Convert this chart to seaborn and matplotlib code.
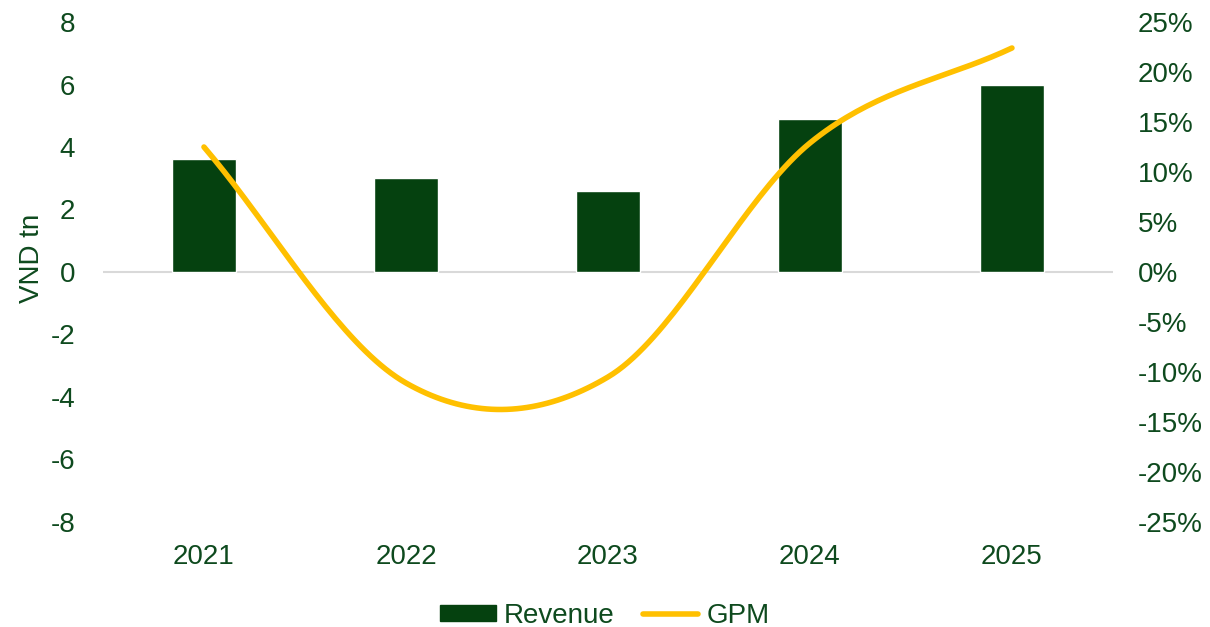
import numpy as np
import pandas as pd
import matplotlib
matplotlib.use("Agg")
import matplotlib.pyplot as plt
import seaborn as sns
from matplotlib.patches import Patch
from matplotlib.lines import Line2D
from matplotlib.ticker import FuncFormatter

# Data
years = ["2021", "2022", "2023", "2024", "2025"]
revenue = [3.6, 3.0, 2.6, 4.9, 6.0]          # VND tn
gpm = [12.5, -11.1, -10.5, 12.9, 22.4]       # %
left_ticks = [-8, -6, -4, -2, 0, 2, 4, 6, 8]
right_ticks = [-25, -20, -15, -10, -5, 0, 5, 10, 15, 20, 25]

BAR = "#05410F"
LINE = "#FFC000"
TEXT = "#0E4A1E"
FS = 20

sns.set_theme(style="white")
plt.rcParams["font.family"] = ["Liberation Sans", "DejaVu Sans"]


def smooth_curve(y, n=40):
    """Cardinal (Catmull-Rom) spline through evenly spaced points."""
    y = np.asarray(y, dtype=float)
    k = len(y)
    m = np.zeros(k)
    m[1:-1] = (y[2:] - y[:-2]) / 2.0
    m[0] = y[1] - y[0]
    m[-1] = y[-1] - y[-2]
    xs, ys = [], []
    for i in range(k - 1):
        t = np.linspace(0, 1, n, endpoint=(i == k - 2))
        h00 = 2 * t**3 - 3 * t**2 + 1
        h10 = t**3 - 2 * t**2 + t
        h01 = -2 * t**3 + 3 * t**2
        h11 = t**3 - t**2
        ys.append(h00 * y[i] + h10 * m[i] + h01 * y[i + 1] + h11 * m[i + 1])
        xs.append(i + t)
    return np.concatenate(xs), np.concatenate(ys)


fig = plt.figure(figsize=(12.1, 6.27), dpi=100)
ax = fig.add_axes([0.0851, 0.1675, 0.8347, 0.7974])

df = pd.DataFrame({"year": years, "revenue": revenue})
sns.barplot(data=df, x="year", y="revenue", color=BAR, width=0.317,
            saturation=1, ax=ax, zorder=2)
ax.set_xlim(-0.5, len(years) - 0.5)
ax.set_ylim(-8, 8)
ax.set_yticks(left_ticks)
ax.set_yticklabels([str(v) for v in left_ticks])
ax.axhline(0, color="#D9D9D9", lw=1.5, zorder=1)
ax.set_xlabel("")
ax.set_ylabel("VND tn", fontsize=FS, color=TEXT)
ax.yaxis.set_label_coords(-0.057, 0.528)
ax.tick_params(axis="y", length=0, pad=20, labelsize=FS, labelcolor=TEXT)
ax.tick_params(axis="x", length=0, pad=16, labelsize=FS, labelcolor=TEXT)
for s in ax.spines.values():
    s.set_visible(False)

ax2 = ax.twinx()
sx, sy = smooth_curve(gpm)
sns.lineplot(x=sx, y=sy, color=LINE, lw=4, ax=ax2, solid_capstyle="round",
             sort=False, zorder=3)
ax2.set_ylim(-25, 25)
ax2.set_yticks(right_ticks)
ax2.yaxis.set_major_formatter(FuncFormatter(lambda v, p: f"{v:.0f}%"))
ax2.tick_params(axis="y", length=0, pad=18, labelsize=FS, labelcolor=TEXT)
for s in ax2.spines.values():
    s.set_visible(False)
ax2.grid(False)

handles = [Patch(facecolor=BAR, edgecolor=BAR),
           Line2D([], [], color=LINE, lw=4, solid_capstyle="round")]
fig.legend(handles, ["Revenue", "GPM"], loc="center", ncol=2,
           bbox_to_anchor=(0.5, 0.018), frameon=False, fontsize=FS,
           labelcolor=TEXT, handlelength=2.0, handleheight=0.55,
           handletextpad=0.3, columnspacing=1.0)

fig.savefig("out.png", dpi=100)
